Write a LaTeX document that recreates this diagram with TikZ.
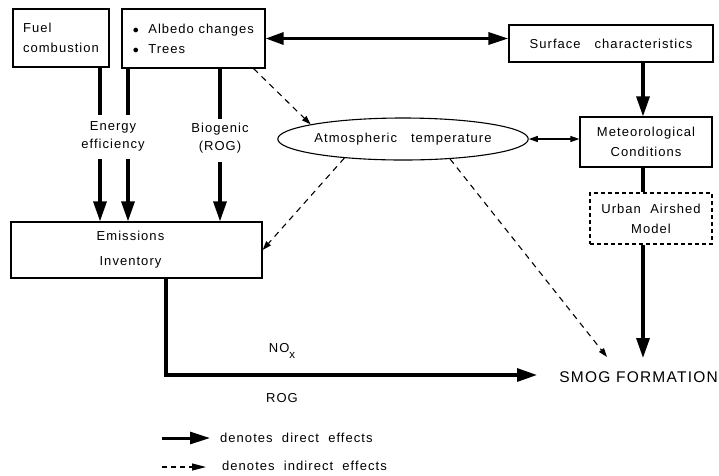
\documentclass[tikz,border=0pt]{standalone}
\usepackage{fontspec}
\setmainfont{Liberation Sans}[LetterSpace=8]
\usetikzlibrary{arrows.meta,shapes.geometric}
\begin{document}
\begin{tikzpicture}[x=1pt,y=-1pt,
  box/.style={draw,line width=1.2pt,rectangle,inner sep=0pt,align=center,font=\fontsize{13}{20}\selectfont},
  dbox/.style={box,dashed,dash pattern=on 4pt off 3pt},
  lbl/.style={align=center,inner sep=0pt,font=\fontsize{13}{18}\selectfont},
  direct/.style={line width=3.2pt,-{Triangle[length=20pt,width=13pt]}},
  heavy/.style={line width=3.2pt},
  indirect/.style={line width=1.1pt,dash pattern=on 6pt off 5pt,-{Triangle[length=9pt,width=6pt]}},
  thin2/.style={line width=1.1pt,{Triangle[length=9pt,width=6pt]}-{Triangle[length=9pt,width=6pt]}}
]
\useasboundingbox (0,0) rectangle (719,475);

% boxes
\node[box,minimum width=96pt,minimum height=58pt,align=left] (fuel) at (61,38) {Fuel\\combustion};
\node[box,minimum width=143pt,minimum height=59pt,align=left] (albedo) at (193.5,38.5) {$\bullet$\ \ Albedo changes\\$\bullet$\ \ Trees};
\node[box,minimum width=204pt,minimum height=37pt] (surf) at (611,43.5) {Surface\ \ \ characteristics};
\node[box,minimum width=132pt,minimum height=50pt] (met) at (646,142) {Meteorological\\Conditions};
\node[dbox,minimum width=122pt,minimum height=51pt] (urban) at (651,218.5) {Urban\ \ Airshed\\Model};
\node[box,minimum width=251pt,minimum height=56pt,font=\fontsize{13}{25}\selectfont] (emis) at (136.5,250) {\hspace*{-12pt}Emissions\\\hspace*{-12pt}Inventory};
\node[draw,ellipse,line width=1.1pt,inner sep=0pt,minimum width=244pt,minimum height=42pt,font=\fontsize{13}{15}\selectfont] (atm) at (403,139) {Atmospheric\ \ \ temperature};

% labels
\node[lbl] (energy) at (113,136) {Energy\\efficiency};
\node[lbl] (bio) at (220,138) {Biogenic\\(ROG)};
\node[inner sep=0pt,anchor=east,font=\fontsize{15.5}{18}\selectfont] (smog) at (718,377) {SMOG FORMATION};
\node[lbl] (nox) at (282,351) {NO\raisebox{-6pt}{\fontsize{11.5}{12}\selectfont x}};
\node[lbl] (rog) at (282,398) {ROG};

% helper columns
\coordinate (xa) at (100,0);
\coordinate (xb) at (128,0);
\coordinate (xc) at (220,0);
\coordinate (xm) at (643,0);
\coordinate (xe) at (166,0);
\coordinate (ya) at (0,115);
\coordinate (yb) at (0,159);
\coordinate (yc) at (0,119);
\coordinate (yd) at (0,162);
\coordinate (ys) at (0,375);
\coordinate (ysm) at (0,358);
\coordinate (xsm) at (537,0);
\coordinate (tip) at (607,357);

% direct effects into the emissions inventory
\draw[heavy] (fuel.south -| xa) -- (xa |- ya);
\draw[direct] (xa |- yb) -- (emis.north -| xa);
\draw[heavy] (albedo.south -| xb) -- (xb |- ya);
\draw[direct] (xb |- yb) -- (emis.north -| xb);
\draw[heavy] (albedo.south -| xc) -- (xc |- yc);
\draw[direct] (xc |- yd) -- (emis.north -| xc);

% albedo / surface link
\draw[line width=3.2pt,{Triangle[length=18pt,width=12pt]}-{Triangle[length=20pt,width=12pt]}]
  (albedo.east) -- (albedo.east -| surf.west);
\draw[direct] (surf.south -| xm) -- (met.north -| xm);
\draw[thin2] (atm.east) -- (atm.east -| met.west);
\draw[heavy] (met.south -| xm) -- (urban.north -| xm);
\draw[direct] (urban.south -| xm) -- (xm |- ysm);

% emissions to smog
\draw[line width=3.2pt,-{Triangle[length=20pt,width=13pt]}] (emis.south -| xe) -- (xe |- ys) -- (xsm |- ys);

% indirect effects
\draw[indirect] ([xshift=-12pt]albedo.south east) -- (atm.171);
\draw[indirect] (atm.198) -- (emis.east);
\draw[indirect] (atm.337) -- (tip);

% legend
\coordinate (la) at (162,438);
\coordinate (lb) at (210,438);
\coordinate (lc) at (162,467);
\coordinate (ld) at (206,467);
\draw[line width=3pt,-{Triangle[length=20pt,width=12pt]}] (la) -- (lb);
\node[lbl,anchor=west] (ldir) at (220,438) {denotes\ \ direct\ \ effects};
\draw[line width=1.1pt,dash pattern=on 5pt off 4pt,-{Triangle[length=14pt,width=7pt]}] (lc) -- (ld);
\node[lbl,anchor=west] (lind) at (222,466) {denotes\ \ indirect\ \ effects};
\end{tikzpicture}
\end{document}
